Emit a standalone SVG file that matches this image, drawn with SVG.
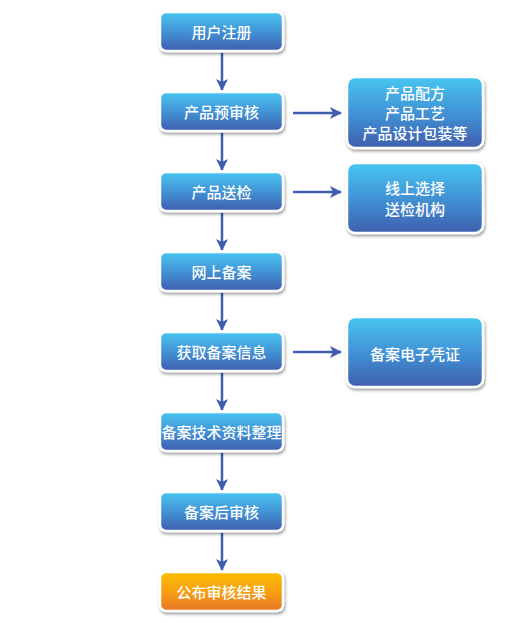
<svg xmlns="http://www.w3.org/2000/svg" width="521" height="623" viewBox="0 0 521 623">
<defs>
<linearGradient id="gb" x1="0" y1="0" x2="0" y2="1">
<stop offset="0" stop-color="#46c6f0"/>
<stop offset="0.5" stop-color="#4293d6"/>
<stop offset="1" stop-color="#3f5fae"/>
</linearGradient>
<linearGradient id="go" x1="0" y1="0" x2="0" y2="1">
<stop offset="0" stop-color="#fcbd00"/>
<stop offset="0.5" stop-color="#f7a010"/>
<stop offset="1" stop-color="#e8762a"/>
</linearGradient>
<filter id="sh" x="-20%" y="-20%" width="140%" height="150%">
<feDropShadow dx="1" dy="2" stdDeviation="1.8" flood-color="#000" flood-opacity="0.4"/>
</filter>
<marker id="ah" viewBox="0 0 12 12" refX="11" refY="6" markerWidth="12" markerHeight="12" markerUnits="userSpaceOnUse" orient="auto">
<path d="M0,0 L12,6 L0,12 L3,6 Z" fill="#3f5fae"/>
</marker>
</defs>
<style>
.b{fill:url(#gb);stroke:#fff;stroke-width:2.5;filter:url(#sh)}
.o{fill:url(#go);stroke:#fff;stroke-width:2.5;filter:url(#sh)}
.t{font-family:"Noto Sans CJK SC","Noto Sans",sans-serif;font-size:15px;font-weight:500;fill:#fff;text-anchor:middle;dominant-baseline:central}
.c{stroke:#3f5fae;stroke-width:2.5;fill:none;marker-end:url(#ah)}
</style>
<rect width="521" height="623" fill="#fff"/>
<g id="connectors">
<line class="c" x1="222" y1="53" x2="222" y2="90"/>
<line class="c" x1="222" y1="133" x2="222" y2="170"/>
<line class="c" x1="222" y1="213" x2="222" y2="250"/>
<line class="c" x1="222" y1="293" x2="222" y2="330"/>
<line class="c" x1="222" y1="373" x2="222" y2="410"/>
<line class="c" x1="222" y1="453" x2="222" y2="490"/>
<line class="c" x1="222" y1="533" x2="222" y2="570"/>
<line class="c" x1="293" y1="113" x2="341" y2="113"/>
<line class="c" x1="293" y1="192" x2="341" y2="192"/>
<line class="c" x1="293" y1="352" x2="341" y2="352"/>
</g>
<g id="n1"><rect class="b" x="160" y="12" width="123" height="39" rx="6"/><text class="t" x="221.5" y="31.5">用户注册</text></g>
<g id="n2"><rect class="b" x="160" y="92" width="123" height="39" rx="6"/><text class="t" x="221.5" y="111.5">产品预审核</text></g>
<g id="n3"><rect class="b" x="160" y="172" width="123" height="39" rx="6"/><text class="t" x="221.5" y="191.5">产品送检</text></g>
<g id="n4"><rect class="b" x="160" y="252" width="123" height="39" rx="6"/><text class="t" x="221.5" y="271.5">网上备案</text></g>
<g id="n5"><rect class="b" x="160" y="332" width="123" height="39" rx="6"/><text class="t" x="221.5" y="351.5">获取备案信息</text></g>
<g id="n6"><rect class="b" x="160" y="412" width="123" height="39" rx="6"/><text class="t" x="221.5" y="431.5">备案技术资料整理</text></g>
<g id="n7"><rect class="b" x="160" y="492" width="123" height="39" rx="6"/><text class="t" x="221.5" y="511.5">备案后审核</text></g>
<g id="n8"><rect class="o" x="160" y="572" width="123" height="39" rx="6"/><text class="t" x="221.5" y="591.5">公布审核结果</text></g>
<g id="r1"><rect class="b" x="347" y="77" width="136" height="71" rx="8"/><text class="t" x="415" y="92.5">产品配方</text><text class="t" x="415" y="112.5">产品工艺</text><text class="t" x="415" y="132.5">产品设计包装等</text></g>
<g id="r2"><rect class="b" x="347" y="163" width="136" height="70" rx="8"/><text class="t" x="415" y="187.5">线上选择</text><text class="t" x="415" y="208.5">送检机构</text></g>
<g id="r3"><rect class="b" x="347" y="317" width="136" height="70" rx="8"/><text class="t" x="415" y="353">备案电子凭证</text></g>
</svg>
